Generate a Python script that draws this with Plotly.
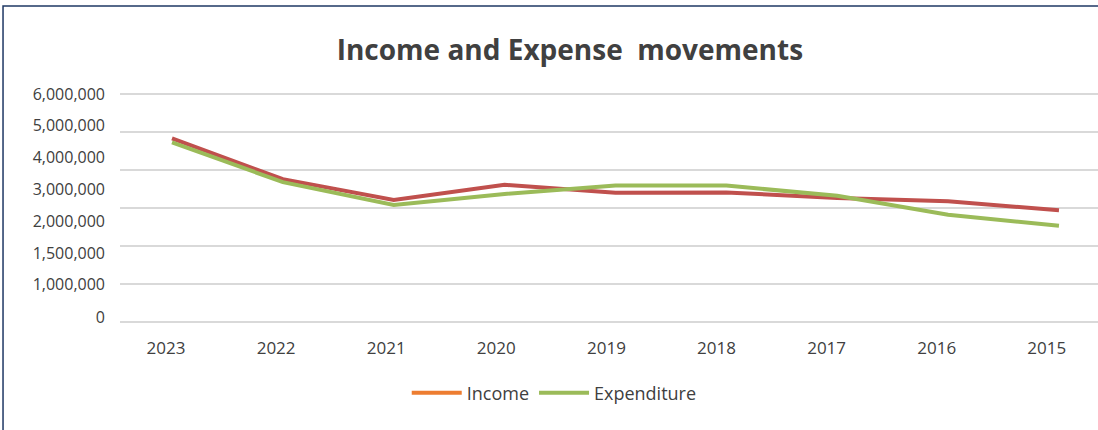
import plotly.graph_objects as go

years = ["2023", "2022", "2021", "2020", "2019", "2018", "2017", "2016", "2015"]
income = [4830000, 3760000, 3210000, 3610000, 3400000, 3410000, 3260000, 3180000, 2940000]
expenditure = [4730000, 3680000, 3080000, 3370000, 3590000, 3590000, 3320000, 2820000, 2530000]
ytick_text = ["6,000,000", "5,000,000", "4,000,000", "3,000,000", "2,000,000", "1,500,000", "1,000,000", "0"]
ytick_pos = [6000000, 5170000, 4320000, 3490000, 2640000, 1810000, 1000000, 130000]

idx = list(range(len(years)))
font_fam = "'Open Sans', Lato, sans-serif"
grey = "#404040"
yr = [-52632, 6052632]

fig = go.Figure()
# invisible trace to activate the gridline axis
fig.add_trace(go.Scatter(x=[None], y=[None], xaxis="x2", yaxis="y2", showlegend=False, hoverinfo="skip"))
fig.add_trace(go.Scatter(x=idx, y=income, mode="lines", xaxis="x2", yaxis="y",
                         line=dict(color="#C0504D", width=4), showlegend=False, hoverinfo="skip"))
fig.add_trace(go.Scatter(x=idx, y=expenditure, mode="lines", xaxis="x2", yaxis="y",
                         line=dict(color="#9BBB59", width=4), showlegend=False, hoverinfo="skip"))
# legend entries
fig.add_trace(go.Scatter(x=[None], y=[None], mode="lines", name="Income",
                         line=dict(color="#ED7D31", width=4)))
fig.add_trace(go.Scatter(x=[None], y=[None], mode="lines", name="Expenditure",
                         line=dict(color="#9BBB59", width=4)))

fig.update_layout(
    width=1098, height=430,
    margin=dict(l=120, r=0, t=92, b=106),
    paper_bgcolor="white", plot_bgcolor="white",
    font=dict(family=font_fam, color=grey, size=16),
    title=dict(text="<b>Income and Expense\u00a0 movements</b>", xref="container", yref="container",
               x=0.519, y=0.884, xanchor="center", yanchor="middle",
               font=dict(size=28, color=grey, family=font_fam)),
    xaxis=dict(type="linear", range=[-0.418, 8.465], tickvals=idx, ticktext=years,
               showgrid=False, zeroline=False, showline=False, ticklabelstandoff=12,
               tickfont=dict(size=17, color=grey)),
    xaxis2=dict(type="linear", range=[-0.469, 8.352], overlaying="x", visible=False),
    yaxis=dict(range=yr, tickvals=ytick_pos, ticktext=ytick_text, showgrid=False,
               zeroline=False, showline=False, ticklabelstandoff=14,
               tickfont=dict(size=16, color=grey)),
    yaxis2=dict(range=yr, tick0=0, dtick=1000000, overlaying="y", side="left", anchor="x",
                showgrid=True, gridcolor="#D9D9D9", gridwidth=1.5, showticklabels=False,
                zeroline=False, showline=False),
    legend=dict(orientation="h", x=0.444, y=-0.298, xanchor="center", yanchor="middle",
                font=dict(size=18, color=grey), itemwidth=50),
    shapes=[dict(type="path", xref="paper", yref="paper", layer="above",
                 path="M -0.1196,-0.5 L -0.1196,1.3707 L 1.01,1.3707",
                 line=dict(color="#1F3864", width=1.5))],
)
fig.write_html("out.html")
